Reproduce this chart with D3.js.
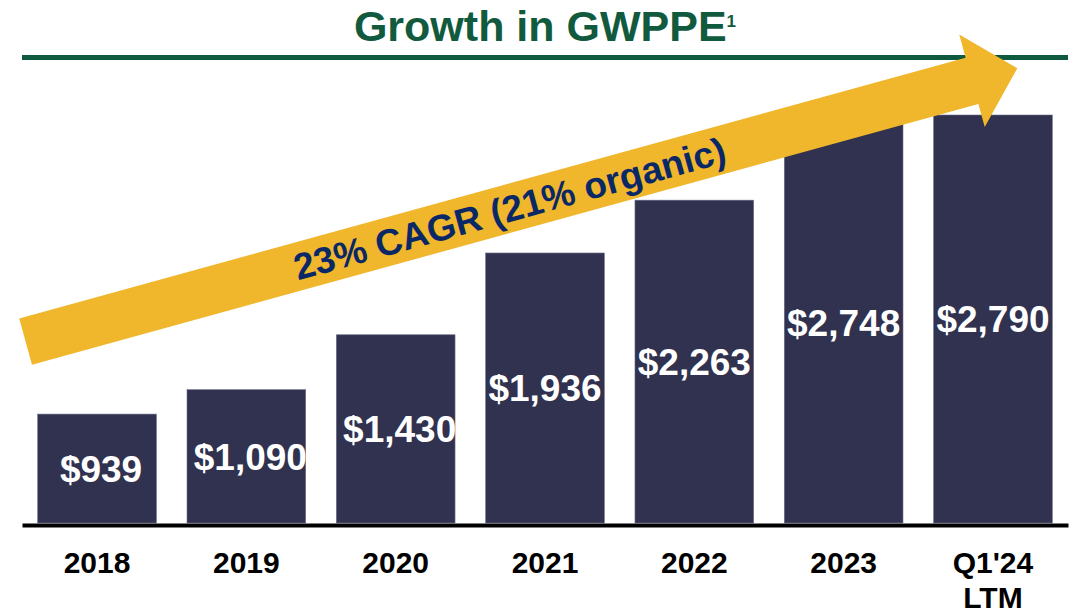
<!DOCTYPE html>
<html>
<head>
<meta charset="utf-8">
<script src="https://cdn.jsdelivr.net/npm/d3@7"></script>
<style>
  body { margin: 0; background: #fff; }
  svg { display: block; font-family: "Liberation Sans", Arial, sans-serif; }
</style>
</head>
<body>
<div id="chart"></div>
<script>
var categories = ["2018", "2019", "2020", "2021", "2022", "2023", "Q1'24\nLTM"],
    values     = [939, 1090, 1430, 1936, 2263, 2748, 2790]

var titleText = "Growth in GWPPE",
    titleNote = "1",
    cagrText  = "23% CAGR (21% organic)"

var width = 1074, height = 613

var svg = d3.select("#chart").append("svg")
  .attr("width", width)
  .attr("height", height)

// title + green rule
var title = svg.append("text")
  .attr("x", 545)
  .attr("y", 40.5)
  .attr("text-anchor", "middle")
  .attr("fill", "#125a3e")
  .style("font-size", "43px")
  .style("font-weight", "bold")
  .text(titleText)

title.append("tspan")
  .attr("dy", -14)
  .style("font-size", "17px")
  .text(titleNote)

svg.append("line")
  .attr("x1", 22).attr("x2", 1068)
  .attr("y1", 57.5).attr("y2", 57.5)
  .attr("stroke", "#0f5a3f")
  .attr("stroke-width", 5)

// scales
var x = d3.scaleBand()
  .domain(categories)
  .range([22, 1068])
  .paddingInner(0.205)
  .paddingOuter(0.105)

var y = d3.scaleLinear()
  .domain([265, d3.max(values)])
  .range([523, 115])

var data = categories.map((c, i) => ({ cat: c, value: values[i] }))

// bars
svg.append("g").selectAll("rect")
  .data(data)
  .join("rect")
  .attr("x", d => x(d.cat))
  .attr("y", d => y(d.value))
  .attr("width", x.bandwidth())
  .attr("height", d => y.range()[0] - y(d.value))
  .attr("fill", "#30324f")
  .attr("stroke", "#6e7089")
  .attr("stroke-width", 0.6)

svg.append("g").selectAll("text")
  .data(data)
  .join("text")
  .attr("x", d => x(d.cat) + x.bandwidth() / 2 + (d.value < 1500 ? 4 : 0))
  .attr("y", d => (y(d.value) + y.range()[0]) / 2)
  .attr("dy", "0.36em")
  .attr("text-anchor", "middle")
  .attr("fill", "#fff")
  .style("font-size", "37px")
  .style("font-weight", "bold")
  .text(d => "$" + d3.format(",")(d.value))

// x axis (baseline + category labels)
var xAxis = svg.append("g")
  .attr("transform", "translate(0,525)")
  .call(d3.axisBottom(x).tickSize(0).tickSizeOuter(0).tickPadding(27))

xAxis.select(".domain")
  .attr("stroke", "#000")
  .attr("stroke-width", 4)

xAxis.selectAll(".tick text")
  .attr("fill", "#000")
  .style("font-size", "30px")
  .style("font-weight", "bold")
  .style("font-family", "'Liberation Sans', Arial, sans-serif")
  .each(function(d) {
    var t = d3.select(this), lines = d.split("\n")
    t.text(null)
    lines.forEach((l, i) => t.append("tspan")
      .attr("x", 0)
      .attr("dy", i == 0 ? "0.71em" : "1.17em")
      .text(l))
  })
  .attr("dy", null)

// growth arrow
var arrow = { x0: 25.6, y0: 341.6, x1: 1017.3, y1: 68.3, shaft: 48, head: 96, headLen: 47 }

var dx = arrow.x1 - arrow.x0, dy = arrow.y1 - arrow.y0,
    len = Math.sqrt(dx * dx + dy * dy),
    angle = Math.atan2(dy, dx) * 180 / Math.PI

var s = arrow.shaft / 2, h = arrow.head / 2, b = len - arrow.headLen
var arrowPts = [[0, -s], [b, -s], [b, -h], [len, 0], [b, h], [b, s], [0, s]]

var ag = svg.append("g")
  .attr("transform", "translate(" + arrow.x0 + "," + arrow.y0 + ") rotate(" + angle + ")")

ag.append("path")
  .attr("d", d3.line()(arrowPts) + "Z")
  .attr("fill", "#f0b62c")

ag.append("text")
  .attr("x", 502)
  .attr("y", 0)
  .attr("dy", "0.36em")
  .attr("text-anchor", "middle")
  .attr("fill", "#0b2866")
  .style("font-size", "37px")
  .style("font-weight", "bold")
  .text(cagrText)
</script>
</body>
</html>
